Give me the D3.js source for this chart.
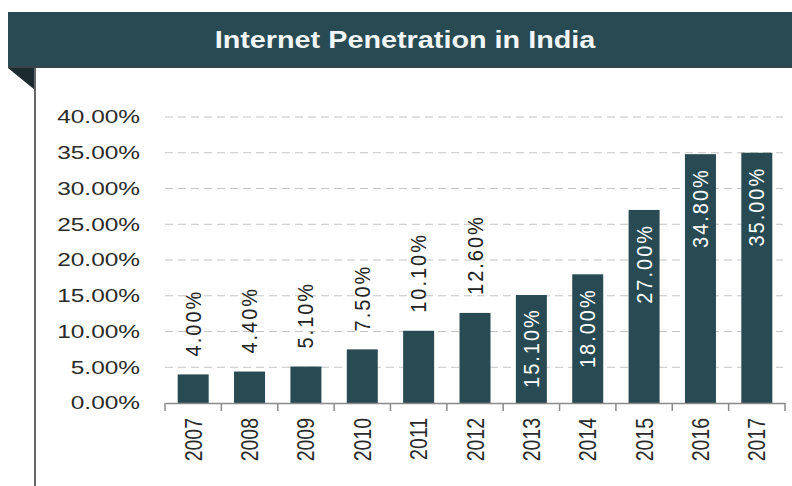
<!DOCTYPE html>
<html>
<head>
<meta charset="utf-8">
<script src="https://cdn.jsdelivr.net/npm/d3@7"></script>
<style>
  body { margin: 0; background: #fff; }
  text { font-family: Arial, "Liberation Sans", sans-serif; }
</style>
</head>
<body>
<div id="chart"></div>
<script>
// data
var years = ["2007", "2008", "2009", "2010", "2011", "2012", "2013", "2014", "2015", "2016", "2017"];
var penetration = [4.0, 4.4, 5.1, 7.5, 10.1, 12.6, 15.1, 18.0, 27.0, 34.8, 35.0];
var yTicks = [0, 5, 10, 15, 20, 25, 30, 35, 40];

function init() {
    var width = 792;
    var height = 486;
    var stretch = 1.32; // the source picture is widened, text included

    var teal = "#284a52";

    var svg = d3.select("#chart")
        .append("svg")
        .attr("width", width)
        .attr("height", height);

    // header band
    svg.append("rect")
        .attr("x", 8).attr("y", 12)
        .attr("width", width - 8).attr("height", 56)
        .attr("fill", teal);
    svg.append("rect")
        .attr("x", 8).attr("y", 66)
        .attr("width", width - 8).attr("height", 2)
        .attr("fill", "#3a4448");

    svg.append("text")
        .attr("transform", "translate(405,48) scale(1.2,1)")
        .attr("text-anchor", "middle")
        .attr("fill", "#f2f6f6")
        .style("font-size", "24px")
        .style("font-weight", "bold")
        .text("Internet Penetration in India");

    // folded corner and left rule
    svg.append("path")
        .attr("d", "M8,68 L35,68 L35,90 Z")
        .attr("fill", "#1c2b2f");
    svg.append("line")
        .attr("x1", 35).attr("x2", 35)
        .attr("y1", 68).attr("y2", height)
        .attr("stroke", "#666")
        .attr("stroke-width", 2);

    // scales
    var x = d3.scaleBand()
        .domain(years)
        .range([165, 785])
        .paddingInner(0.45)
        .paddingOuter(0.225);

    var y = d3.scaleLinear()
        .domain([0, 40])
        .range([403, 117]);

    // gridlines
    svg.selectAll(".grid")
        .data(yTicks.filter(function (d) { return d > 0; }))
        .enter()
        .append("line")
        .attr("class", "grid")
        .attr("x1", 165).attr("x2", 783)
        .attr("y1", function (d) { return y(d); })
        .attr("y2", function (d) { return y(d); })
        .attr("stroke", "#c4c4c4")
        .attr("stroke-width", 1)
        .attr("stroke-dasharray", "8,5");

    // y labels
    svg.selectAll(".ylab")
        .data(yTicks)
        .enter()
        .append("text")
        .attr("class", "ylab")
        .attr("transform", function (d) {
            return "translate(140," + y(d) + ") scale(" + stretch + ",1)";
        })
        .attr("dy", "0.35em")
        .attr("text-anchor", "end")
        .attr("fill", "#2a2a2a")
        .style("font-size", "18.5px")
        .text(function (d) { return d.toFixed(2) + "%"; });

    // bars
    svg.selectAll(".bar")
        .data(penetration)
        .enter()
        .append("rect")
        .attr("class", "bar")
        .attr("x", function (d, i) { return x(years[i]); })
        .attr("y", function (d) { return y(d); })
        .attr("width", x.bandwidth())
        .attr("height", function (d) { return y(0) - y(d); })
        .attr("fill", teal);

    // x axis line and ticks
    var xAxis = d3.axisBottom(x).tickSize(0).tickFormat("");
    var axisG = svg.append("g")
        .attr("transform", "translate(0," + y(0) + ")")
        .call(xAxis);
    axisG.select(".domain").attr("stroke", "#8a8a8a").attr("stroke-width", 1.5);

    var bounds = years.map(function (d) { return x(d) - x.step() * x.paddingInner() / 2; });
    bounds.push(x.range()[1]);
    axisG.selectAll(".tk")
        .data(bounds)
        .enter()
        .append("line")
        .attr("class", "tk")
        .attr("x1", function (d) { return d; })
        .attr("x2", function (d) { return d; })
        .attr("y1", 0).attr("y2", 8)
        .attr("stroke", "#8a8a8a")
        .attr("stroke-width", 1.5);

    // year labels
    svg.selectAll(".xlab")
        .data(years)
        .enter()
        .append("text")
        .attr("class", "xlab")
        .attr("transform", function (d) {
            return "translate(" + (x(d) + x.bandwidth() / 2) + ",418) scale(1.25,1) rotate(-90)";
        })
        .attr("dy", "0.35em")
        .attr("text-anchor", "end")
        .attr("fill", "#2a2a2a")
        .style("font-size", "19.5px")
        .text(function (d) { return d; });

    // value labels: above short bars, inside the tall ones
    var fs = 20;
    var ls = 2;
    var labLen = fs * 3.39 + 5 * ls;
    svg.selectAll(".vlab")
        .data(penetration)
        .enter()
        .append("text")
        .attr("class", "vlab")
        .attr("transform", function (d, i) {
            var cx = x(years[i]) + x.bandwidth() / 2;
            var top = y(d);
            var barH = y(0) - top;
            var ty;
            if (d < 15) {
                ty = top - 18;
            } else if (barH < labLen + 32) {
                ty = top + barH / 2 + labLen / 2;
            } else {
                ty = top + 16 + labLen;
            }
            return "translate(" + cx + "," + ty + ") scale(1.08,1) rotate(-90)";
        })
        .attr("dy", "0.35em")
        .attr("text-anchor", "start")
        .attr("fill", function (d) { return d < 15 ? "#222" : "#ffffff"; })
        .style("font-size", fs + "px")
        .style("letter-spacing", ls + "px")
        .text(function (d) { return d.toFixed(2) + "%"; });
}

window.onload = init;
</script>
</body>
</html>
